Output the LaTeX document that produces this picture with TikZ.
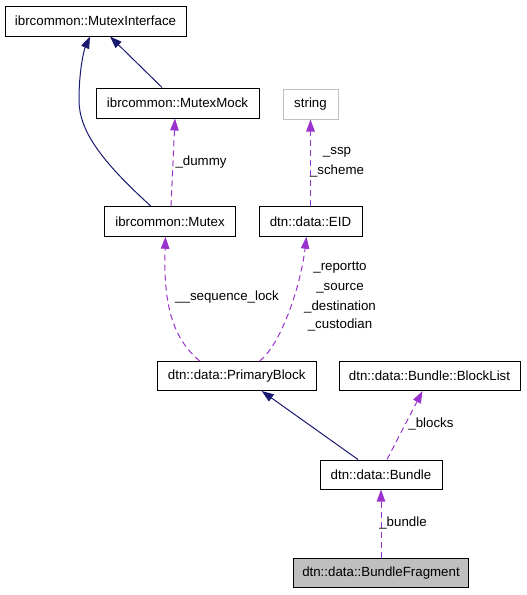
\documentclass[tikz,border=0pt]{standalone}
\usepackage{fontspec}
\setmainfont{Liberation Sans}
\usetikzlibrary{arrows.meta}
\definecolor{inhcol}{HTML}{191970}
\definecolor{usecol}{HTML}{9A32CD}
\definecolor{extcol}{HTML}{BFBFBF}
\definecolor{fillcol}{HTML}{BFBFBF}
\tikzset{
  cls/.style={draw=black, line width=1pt, inner sep=0pt, font=\fontsize{13.3pt}{16pt}\selectfont},
  extcls/.style={cls, draw=extcol},
  inh/.style={draw=inhcol, line width=1pt, -{Triangle[length=12pt,width=8.5pt]}, color=inhcol},
  use/.style={draw=usecol, line width=1pt, dash pattern=on 6pt off 4pt, -{Triangle[length=12pt,width=8.5pt]}, color=usecol},
  lbl/.style={inner sep=0pt, font=\fontsize{13.3pt}{16pt}\selectfont, text=black}
}
\begin{document}
\begin{tikzpicture}[x=1pt,y=-1pt]
\useasboundingbox (0,0) rectangle (527,595);
% nodes
\node[cls, minimum width=181pt, minimum height=30pt] (mi) at (95.5,21) {ibrcommon::MutexInterface};
\node[cls, minimum width=163pt, minimum height=30pt] (mm) at (177.5,103) {ibrcommon::MutexMock};
\node[extcls, minimum width=55pt, minimum height=30pt] (str) at (310.5,104) {string};
\node[cls, minimum width=131pt, minimum height=29.5pt] (mx) at (170,221.5) {ibrcommon::Mutex};
\node[cls, minimum width=103pt, minimum height=29.5pt] (eid) at (310.5,221.5) {dtn::data::EID};
\node[cls, minimum width=159pt, minimum height=29pt] (pb) at (236.7,376) {dtn::data::PrimaryBlock};
\node[cls, minimum width=181pt, minimum height=29pt] (bl) at (429.5,376) {dtn::data::Bundle::BlockList};
\node[cls, minimum width=122pt, minimum height=29pt] (bu) at (381,474.5) {dtn::data::Bundle};
\node[cls, fill=fillcol, minimum width=175pt, minimum height=29pt] (bf) at (381,573) {dtn::data::BundleFragment};
% inheritance
\draw[inh] ([xshift=-19pt]mx.north) .. controls (100,160) and (79,130) .. (79,100)
   .. controls (79,70) and (84,50) .. ([xshift=-5.5pt]mi.south);
\draw[inh] ([xshift=-15.5pt]mm.north) -- ([xshift=14.5pt]mi.south);
\draw[inh] ([xshift=-23pt]bu.north) -- ([xshift=25pt]pb.south);
% usage
\draw[use] ([xshift=1pt]mx.north) -- node[lbl, pos=0.5, right=2pt] (ldummy) {\_dummy} ([xshift=-2.5pt]mm.south);
\draw[use] (eid.north) -- (str.south);
\node[lbl] (lssp) at (337,152) {\_ssp};
\node[lbl] (lscheme) at (337,171) {\_scheme};
\draw[use] ([xshift=-37pt]pb.north) .. controls (175,340) and (163,310) .. ([xshift=-4.5pt]mx.south);
\node[lbl] (lseq) at (227,297) {\_\_sequence\_lock};
\draw[use] ([xshift=23pt]pb.north) .. controls (280,345) and (300,290) .. ([xshift=-4pt]eid.south);
\node[lbl] (lrep) at (340,268) {\_reportto};
\node[lbl] (lsrc) at (340,288) {\_source};
\node[lbl] (ldst) at (340,307) {\_destination};
\node[lbl] (lcus) at (340,325) {\_custodian};
\draw[use] ([xshift=6pt]bu.north) -- ([xshift=-7pt]bl.south);
\node[lbl] (lblk) at (431,424) {\_blocks};
\draw[use] (bf.north) -- (bu.south);
\node[lbl] (lbun) at (403,523) {\_bundle};
\end{tikzpicture}
\end{document}
